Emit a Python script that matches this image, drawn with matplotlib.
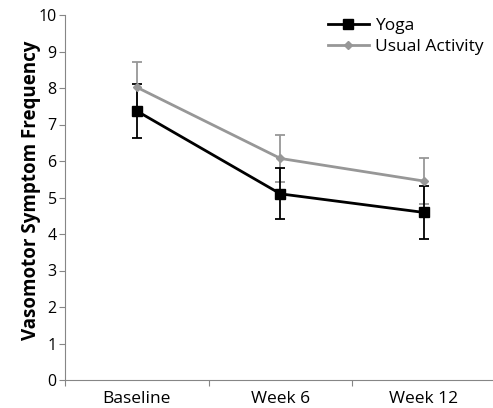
import matplotlib.pyplot as plt
from matplotlib.lines import Line2D

weeks = ['Baseline', 'Week 6', 'Week 12']
yoga = [7.37, 5.10, 4.59]
yoga_err = [0.74, 0.70, 0.72]
usual = [8.02, 6.07, 5.45]
usual_err = [0.69, 0.64, 0.64]

plt.rcParams['font.family'] = ['Open Sans', 'DejaVu Sans']

fig = plt.figure(figsize=(4.93, 4.08), dpi=100)
ax = fig.add_axes([65/493, 28/408, 428/493, 365/408])

x = range(len(weeks))
ax.errorbar(x, usual, yerr=usual_err, color='#979797', marker='D', markersize=4.5,
            linewidth=2, capsize=3.3, elinewidth=1.3, capthick=1.3)
ax.errorbar(x, yoga, yerr=yoga_err, color='black', marker='s', markersize=7,
            linewidth=2, capsize=3.3, elinewidth=1.3, capthick=1.3)

ax.set_xlim(-0.5, 2.48)
ax.set_ylim(0, 10)
ax.set_yticks(range(0, 11))
ax.set_xticks([-0.5, 0.5, 1.5])
ax.set_xticklabels([])
ax.set_xticks(list(x), weeks, minor=True)
ax.tick_params(axis='x', which='minor', length=0, labelsize=12.5, pad=8)
ax.tick_params(axis='x', which='major', length=4, color='#868686')
ax.tick_params(axis='y', length=4, color='#868686', labelsize=11.5, pad=2)

for s in ['top', 'right']:
    ax.spines[s].set_visible(False)
for s in ['left', 'bottom']:
    ax.spines[s].set_color('#868686')

ax.set_ylabel('Vasomotor Symptom Frequency', fontsize=13.5, fontweight='bold')
ax.yaxis.set_label_coords(-0.056, 0.52)

handles = [
    Line2D([], [], color='black', marker='s', markersize=7, linewidth=2),
    Line2D([], [], color='#979797', marker='D', markersize=4.5, linewidth=2),
]
ax.legend(handles, ['Yoga', 'Usual Activity'], loc='upper left',
          bbox_to_anchor=((328 - 65 - 16) / 428, 1.035), frameon=False, fontsize=12.5,
          handlelength=2.4, handletextpad=0.35, labelspacing=0.3)

fig.savefig('out.png', dpi=100)
